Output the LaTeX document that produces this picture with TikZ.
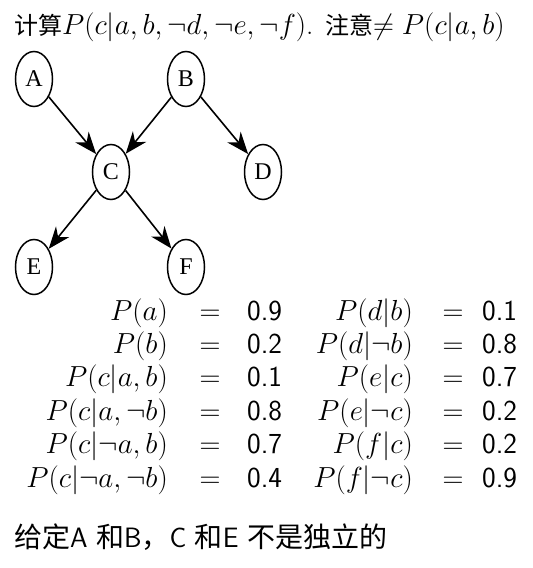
\RequirePackage{fix-cm}
\documentclass[tikz,border=0pt]{standalone}
\usepackage{fontspec}
\newfontfamily\cjk{Noto Sans CJK SC}
\newfontfamily\nodefont{Liberation Serif}
\usetikzlibrary{shapes.geometric,arrows.meta}
\begin{document}
\begin{tikzpicture}[x=1pt,y=-1pt,
  bn/.style={ellipse,draw,line width=1.5pt,minimum width=37pt,minimum height=55pt,inner sep=0pt,font=\nodefont\fontsize{24}{28}\selectfont},
  edge/.style={line width=1.6pt,-{Stealth[length=22pt,width=17pt,inset=7pt]}},
  txt/.style={inner sep=0pt,font=\fontsize{29}{34}\selectfont},
  cj/.style={inner sep=0pt,font=\fontsize{28}{34}\selectfont}]
\useasboundingbox (0,0) rectangle (533,568);
% title
\node[txt,anchor=base west] (title) at (14,34) {{\cjk\fontsize{24}{28}\selectfont 计算}$P(c|a,b,\neg d,\neg e,\neg f)$. {\cjk\fontsize{24}{28}\selectfont 注意}$\neq P(c|a,b)$};
% network
\node[bn] (A) at (34,79) {A};
\node[bn] (B) at (186,79) {B};
\node[bn] (C) at (111,172) {C};
\node[bn] (D) at (263,172) {D};
\node[bn] (E) at (34,267) {E};
\node[bn] (F) at (186,267) {F};
\draw[edge] (A) -- (C);
\draw[edge] (B) -- (C);
\draw[edge] (B) -- (D);
\draw[edge] (C) -- (E);
\draw[edge] (C) -- (F);
% table
\foreach \l/\v/\r/\w [count=\i] in {
  {P(a)}/0.9/{P(d|b)}/0.1,
  {P(b)}/0.2/{P(d|\neg b)}/0.8,
  {P(c|a,b)}/0.1/{P(e|c)}/0.7,
  {P(c|a,\neg b)}/0.8/{P(e|\neg c)}/0.2,
  {P(c|\neg a,b)}/0.7/{P(f|c)}/0.2,
  {P(c|\neg a,\neg b)}/0.4/{P(f|\neg c)}/0.9}{
  \node[txt,anchor=base east] (l\i) at (168,286.6+33.4*\i) {$\l$};
  \node[txt,anchor=base] (e\i) at (210,286.6+33.4*\i) {$=$};
  \node[txt,anchor=base west] (v\i) at (247,286.6+33.4*\i) {\sffamily \v};
  \node[txt,anchor=base east] (r\i) at (413,286.6+33.4*\i) {$\r$};
  \node[txt,anchor=base] (f\i) at (453,286.6+33.4*\i) {$=$};
  \node[txt,anchor=base west] (w\i) at (482,286.6+33.4*\i) {\sffamily \w};
}
% note
\node[cj,anchor=base west] (note) at (14,547) {{\cjk 给定}\textsf{A} {\cjk 和}\textsf{B}{\cjk ，}\textsf{C} {\cjk 和}\textsf{E} {\cjk 不是独立的}};
\end{tikzpicture}
\end{document}
